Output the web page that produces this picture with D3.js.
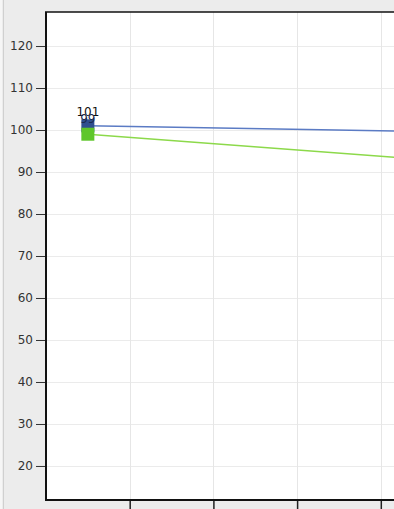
<!DOCTYPE html>
<html><head><meta charset="utf-8">
<script src="https://cdn.jsdelivr.net/npm/d3@7"></script>
<style>
html,body{margin:0;padding:0;background:#ececec;overflow:hidden}
svg{display:block}
text{font-family:"DejaVu Sans",sans-serif}
</style></head>
<body>
<script>
const categories = ["1","2","3","4","5","6","7"];
const pointIndex = [0, 6];
const blueValues = [101, 99];
const greenValues = [99, 90];
const yTicks = [20,30,40,50,60,70,80,90,100,110,120];

(function(){
const W = 394, H = 509;
const mLeft = 46, mTop = 12, mBottom = 500, band = 83.7;
const svg = d3.select("body").append("svg").attr("width", W).attr("height", H);

svg.append("rect").attr("x",0).attr("y",0).attr("width",W).attr("height",H).attr("fill","#ececec");
svg.append("line").attr("x1",3.5).attr("x2",3.5).attr("y1",0).attr("y2",H).attr("stroke","#d0d0d0");
svg.append("line").attr("x1",1).attr("x2",1).attr("y1",0).attr("y2",H).attr("stroke","#f6f6f6").attr("stroke-width",2);

const x = d3.scaleLinear().domain([-0.5, categories.length - 0.5]).range([mLeft, mLeft + band*categories.length]);
const y = d3.scaleLinear().domain([11.9, 128.1]).range([mBottom, mTop]);

const plotW = band*categories.length;
svg.append("rect").attr("x",mLeft).attr("y",mTop).attr("width",plotW).attr("height",mBottom-mTop).attr("fill","#fff");

// grid
const boundaries = d3.range(0.5, categories.length - 0.5, 1);
svg.append("g").selectAll("line").data(yTicks).join("line")
  .attr("x1",mLeft).attr("x2",mLeft+plotW).attr("y1",d=>Math.round(y(d))+0.5).attr("y2",d=>Math.round(y(d))+0.5)
  .attr("stroke","#ebebeb");
svg.append("g").selectAll("line").data(boundaries).join("line")
  .attr("x1",d=>Math.round(x(d))+0.5).attr("x2",d=>Math.round(x(d))+0.5).attr("y1",mTop).attr("y2",mBottom)
  .attr("stroke","#e6e6e6");

// y axis
const yAxis = d3.axisLeft(y).tickValues(yTicks).tickSize(10).tickPadding(3);
const gy = svg.append("g").attr("transform",`translate(${mLeft},0)`).call(yAxis);
gy.select(".domain").remove();
gy.selectAll(".tick line").attr("stroke","#333");
gy.selectAll(".tick text").attr("fill","#333").style("font-size","12px");

// x axis ticks at band boundaries
const xAxis = d3.axisBottom(x).tickValues(boundaries).tickSize(10).tickFormat("");
const gx = svg.append("g").attr("transform",`translate(0,${mBottom})`).call(xAxis);
gx.select(".domain").remove();
gx.selectAll(".tick line").attr("stroke","#222").attr("stroke-width",1.5);

// category labels (below visible area)
svg.append("g").selectAll("text").data(categories).join("text")
  .attr("x",(d,i)=>x(i)).attr("y",mBottom+22).attr("text-anchor","middle")
  .style("font-size","12px").attr("fill","#333").text(d=>d);

// frame lines
svg.append("line").attr("x1",mLeft).attr("x2",mLeft).attr("y1",mTop).attr("y2",mBottom+1).attr("stroke","#111").attr("stroke-width",2);
svg.append("line").attr("x1",mLeft).attr("x2",mLeft+plotW).attr("y1",mBottom).attr("y2",mBottom).attr("stroke","#111").attr("stroke-width",2);
svg.append("line").attr("x1",mLeft-1).attr("x2",mLeft+plotW).attr("y1",mTop).attr("y2",mTop).attr("stroke","#111").attr("stroke-width",1.5);

const line = d3.line().x((d,i)=>x(pointIndex[i])).y(d=>y(d));
svg.append("path").datum(blueValues).attr("d",line).attr("fill","none").attr("stroke","#5b7bc4").attr("stroke-width",1.5);
svg.append("path").datum(greenValues).attr("d",line).attr("fill","none").attr("stroke","#8cd94a").attr("stroke-width",1.5);

const ms = 13;
svg.append("g").selectAll("rect").data(blueValues).join("rect")
  .attr("x",(d,i)=>x(pointIndex[i])-ms/2).attr("y",d=>y(d)-ms/2).attr("width",ms).attr("height",ms)
  .attr("fill","#2f4f8f");
svg.append("g").selectAll("rect").data(greenValues).join("rect")
  .attr("x",(d,i)=>x(pointIndex[i])-ms/2).attr("y",d=>y(d)-ms/2).attr("width",ms).attr("height",ms)
  .attr("fill","#5fc62a");

svg.append("g").selectAll("text").data(blueValues).join("text")
  .attr("x",(d,i)=>x(pointIndex[i])).attr("y",d=>y(d)-10).attr("text-anchor","middle")
  .style("font-size","12px").attr("fill","#111").text(d=>d);
svg.append("g").selectAll("text").data(greenValues).join("text")
  .attr("x",(d,i)=>x(pointIndex[i])).attr("y",d=>y(d)-11).attr("text-anchor","middle")
  .style("font-size","12px").attr("fill","#1a2a50").text(d=>d);
})();
</script>
</body></html>
